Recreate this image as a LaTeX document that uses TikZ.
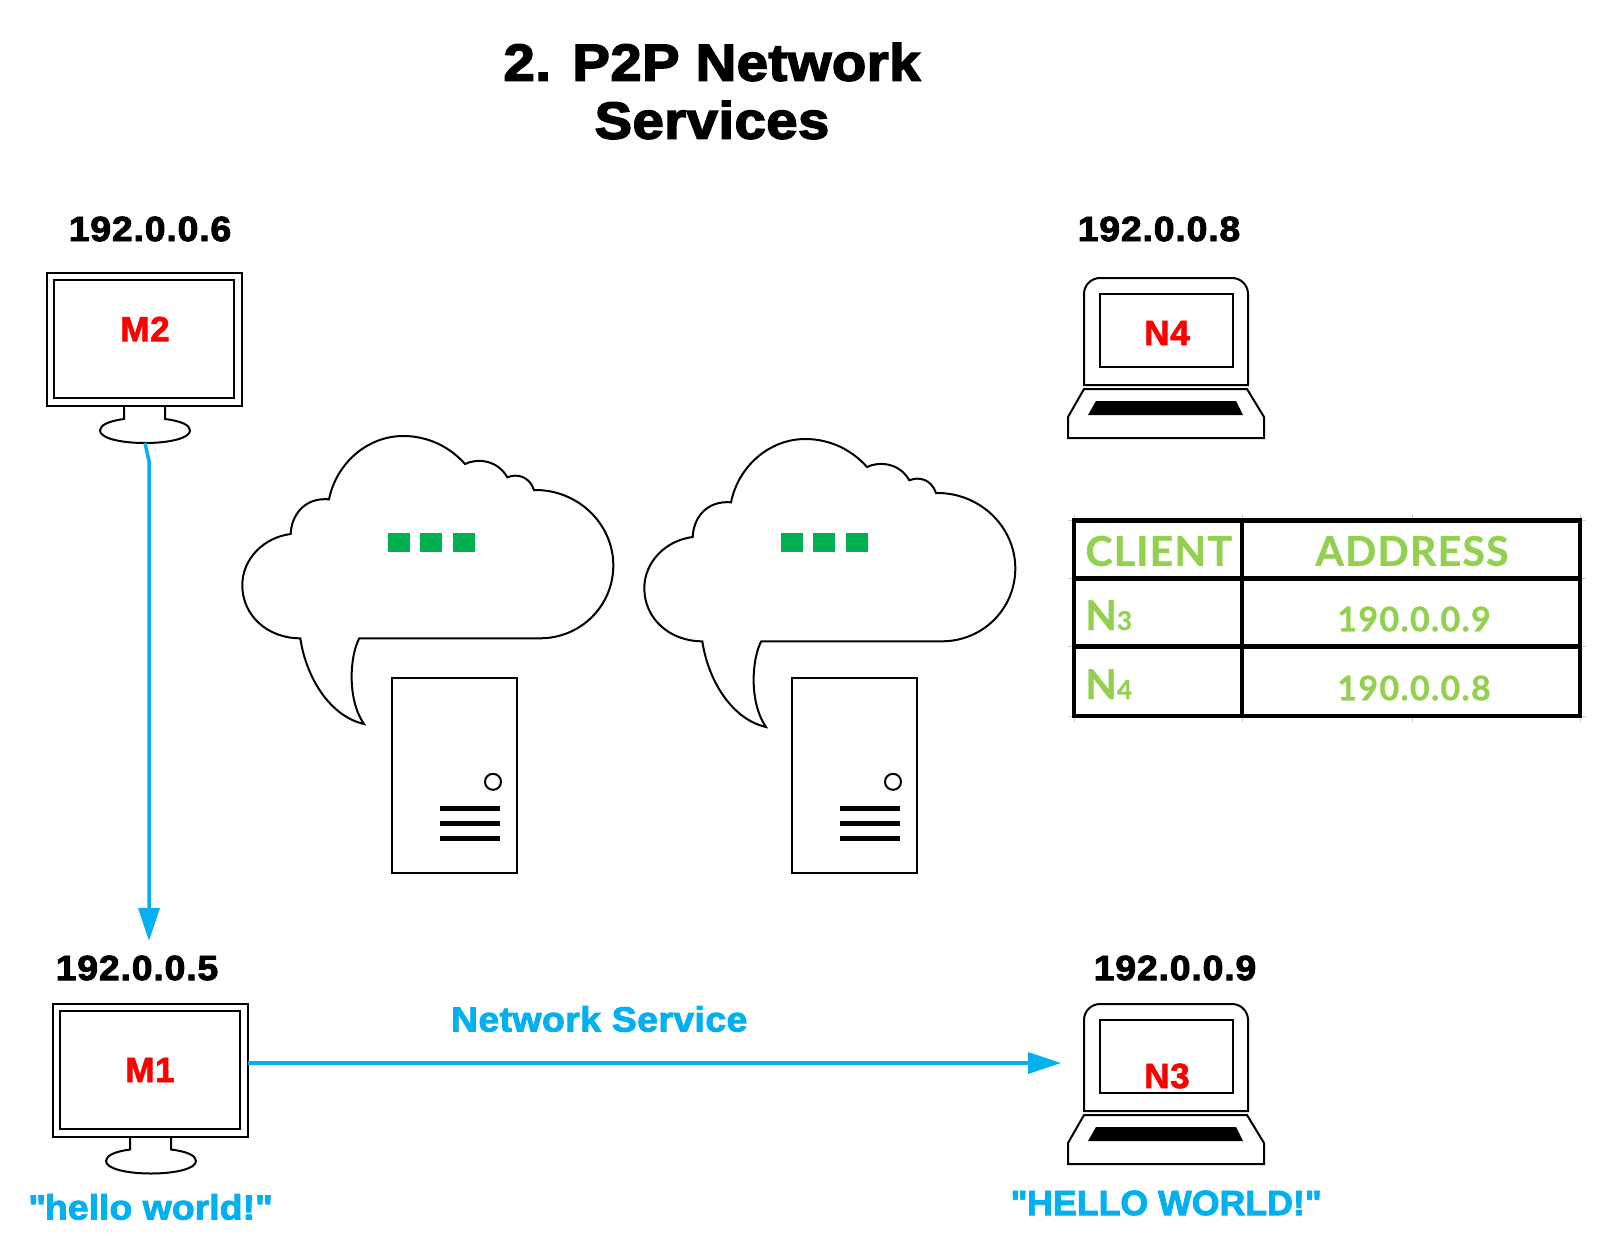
\documentclass[tikz,border=0pt]{standalone}
\usepackage{fontspec}
\setmainfont{Liberation Sans}
\newfontfamily\tablefont{Lato}
\usetikzlibrary{arrows.meta}
\definecolor{skyblue}{RGB}{0,176,240}
\definecolor{dotgreen}{RGB}{0,176,80}
\definecolor{tablegreen}{RGB}{146,208,80}
\definecolor{namered}{RGB}{255,0,0}
\tikzset{
  every node/.style={inner sep=0pt},
  outline/.style={draw=black, line width=1pt},
  tablerule/.style={draw=black, line width=2.3pt},
  title/.style={font=\fontsize{26}{29}\selectfont\bfseries\addfontfeature{LetterSpace=1, FakeStretch=1.08, FakeBold=3}, align=center},
  address/.style={font=\fontsize{17.5}{21}\selectfont\bfseries\addfontfeature{LetterSpace=2.3, FakeStretch=1.07, FakeBold=2.5}},
  devname/.style={font=\fontsize{17.5}{20}\selectfont\bfseries\addfontfeature{LetterSpace=2, FakeBold=2}, text=namered},
  bluetext/.style={font=\fontsize{17.5}{21}\selectfont\bfseries\addfontfeature{FakeBold=2.5, #1}, text=skyblue},
  tablehead/.style={font=\fontsize{20.5}{24}\tablefont\bfseries\addfontfeature{LetterSpace=3, FakeBold=0.8}, text=tablegreen},
  tablecell/.style={font=\fontsize{17}{20}\tablefont\bfseries\addfontfeature{LetterSpace=4, FakeBold=0.8}, text=tablegreen},
  flow/.style={draw=skyblue, line width=1.75pt, -{Triangle[length=16.5pt, width=10.5pt]}},
  % desktop computer, origin at the top left of the casing
  pics/monitor/.style={code={
    \draw[outline] (0,0) rectangle (195,133);
    \draw[outline] (7,7) rectangle (187,125);
    \draw[outline] (77,133) -- (77,146)
      .. controls (62,148) and (53,152) .. (53,157.5)
      .. controls (53,165) and (73,170) .. (98,170)
      .. controls (123,170) and (143,165) .. (143,157.5)
      .. controls (143,152) and (134,148) .. (118,146) -- (118,133);
    \coordinate (-base) at (98,170);
    \coordinate (-right) at (195,59.5);
    \coordinate (-above) at (96,-62.5);
  }},
  % laptop, origin at the top left of the lid
  pics/laptop/.style={code={
    \draw[outline] (0,107) -- (0,16) to[out=90, in=180] (16,0) -- (148,0)
      to[out=0, in=90] (164,16) -- (164,107) -- cycle;
    \draw[outline] (16,16) rectangle (149,89);
    \draw[outline] (0,111) -- (163,111) -- (180,139) -- (180,160) -- (-16,160) -- (-16,139) -- cycle;
    \fill[black] (12,123) -- (152,123) -- (159,137) -- (4,137) -- cycle;
    \coordinate (-left) at (-23,59);
  }},
  % tower, origin at the top left
  pics/tower/.style={code={
    \draw[outline] (0,0) rectangle (125,194.5);
    \draw[outline] (101,103.5) circle (8);
    \foreach \y in {130.5,145.5,160}
      \draw[black, line width=2.4pt] (48,\y) -- (108,\y);
  }},
  % speech cloud, origin where the tail leaves on the left
  pics/cloud/.style={code={
    \draw[outline] (0,0)
      .. controls (-33,0) and (-58,-23) .. (-58,-53)
      .. controls (-58,-80) and (-36,-101) .. (-9.6,-104.3)
      .. controls (-9,-122) and (3,-141) .. (28.7,-139)
      .. controls (36,-175) and (67,-202.3) .. (103,-202.3)
      .. controls (127,-202.3) and (149,-192) .. (164.7,-174.3)
      .. controls (176,-180) and (197,-179) .. (207,-161)
      .. controls (217,-165) and (229,-162) .. (233.7,-148.3)
      .. controls (278,-149) and (313,-114) .. (313,-73)
      .. controls (313,-32) and (280,0) .. (239.7,0)
      -- (59,0)
      .. controls (50,16) and (46,60) .. (63.7,85.7)
      .. controls (30,78) and (6,40) .. (0,0) -- cycle;
  }},
}

\begin{document}
\begin{tikzpicture}[x=0.5pt, y=-0.5pt]
  \useasboundingbox (0,0) rectangle (1600,1258);

  % title
  \node[title] (title) at (712,91) {2. P2P Network\\Services};

  % machines
  \pic (mtwo) at (47,273) {monitor};
  \pic (mone) at (53,1003.5) {monitor};
  \pic (nfour) at (1084,278) {laptop};
  \pic (nthree) at (1084,1004) {laptop};

  \node[devname] (mtwoname) at (145,329) {M2};
  \node[devname] (monename) at (150,1070) {M1};
  \node[devname] (nfourname) at (1167,333) {N4};
  \node[devname] (nthreename) at (1167,1076) {N3};

  % addresses
  \node[address] (mtwoaddr) at (150,229) {192.0.0.6};
  \node[address] (moneaddr) at (137,968) {192.0.0.5};
  \node[address] (nfouraddr) at (1159,229) {192.0.0.8};
  \node[address] (nthreeaddr) at (1175,968) {192.0.0.9};

  % clouds and towers
  \pic (cloudone) at (300.3,638.3) {cloud};
  \pic (cloudtwo) at (702.3,641.3) {cloud};
  \pic (towerone) at (392,678.3) {tower};
  \pic (towertwo) at (792,678.3) {tower};
  \foreach \x in {388,420,453,781,813,846}
    \fill[dotgreen] (\x,533) rectangle (\x+21.5,552.3);

  % table
  \foreach \x in {1074,1242,1412,1580} {
    \draw[gray!40, line width=0.4pt] (\x,514) -- (\x,520);
    \draw[gray!40, line width=0.4pt] (\x,717) -- (\x,722);
  }
  \foreach \y in {520.5,578.5,646.5,716} {
    \draw[gray!40, line width=0.4pt] (1068,\y) -- (1073,\y);
    \draw[gray!40, line width=0.4pt] (1581,\y) -- (1586,\y);
  }
  \draw[tablerule] (1074,520.5) rectangle (1580,716);
  \draw[tablerule] (1074,578.5) -- (1580,578.5);
  \draw[tablerule] (1074,646.5) -- (1580,646.5);
  \draw[tablerule] (1242,520.5) -- (1242,716);
  \node[tablehead, anchor=west] (clienthead) at (1085,551) {CLIENT};
  \node[tablehead] (addresshead) at (1412,551) {ADDRESS};
  \node[tablehead, anchor=base west] (nthreecell) at (1085,630) {N{\fontsize{13}{14}\selectfont 3}};
  \node[tablehead, anchor=base west] (nfourcell) at (1085,699) {N{\fontsize{13}{14}\selectfont 4}};
  \node[tablecell] (nthreeip) at (1414,619) {190.0.0.9};
  \node[tablecell] (nfourip) at (1414,688) {190.0.0.8};

  % network service flows
  \draw[flow] (mtwo-base) -- ++(4,18) -- (mone-above);
  \draw[flow] (mone-right) -- (nthree-left)
    node[pos=0.432, yshift=22pt, bluetext={LetterSpace=1.1, FakeStretch=1.07}] (servicelabel) {Network Service};
  \node[bluetext={FakeStretch=1.07}] (hellolower) at (150,1207) {\textquotedbl hello world!\textquotedbl};
  \node[bluetext={FakeStretch=1.02}] (helloupper) at (1166,1203) {\textquotedbl HELLO WORLD!\textquotedbl};
\end{tikzpicture}
\end{document}
